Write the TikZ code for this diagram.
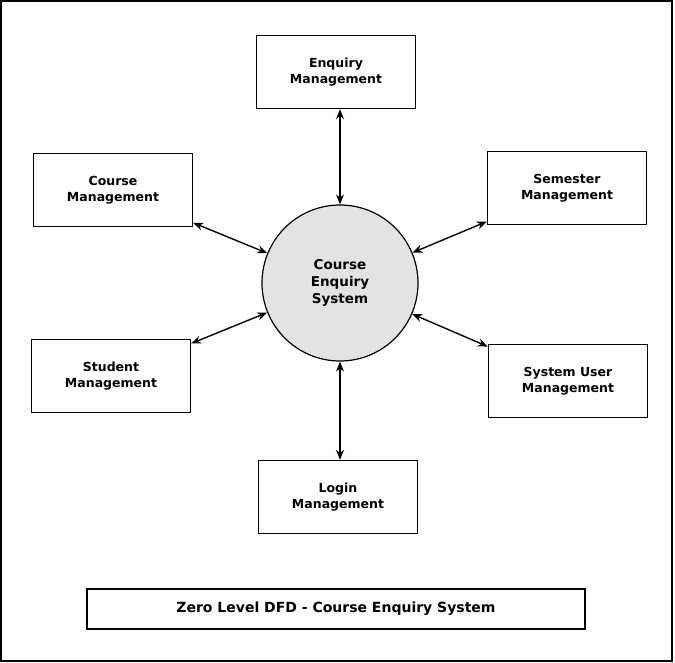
\documentclass[tikz,border=0pt]{standalone}
\usepackage{fontspec}
\setmainfont{DejaVu Sans}
\usetikzlibrary{arrows.meta}
\tikzset{
  entity/.style={draw,line width=1.4pt,minimum width=159pt,minimum height=73pt,align=center,font=\bfseries\fontsize{12.5}{16}\selectfont},
  process/.style={draw,line width=1.2pt,circle,fill=gray!22,minimum size=156pt,align=center,font=\bfseries\fontsize{13.5}{17}\selectfont},
  flow/.style={line width=1.4pt,{Stealth[length=10pt,width=8pt]}-{Stealth[length=10pt,width=8pt]}}
}
\begin{document}
\begin{tikzpicture}[x=1pt,y=-1pt]
\useasboundingbox (0,0) rectangle (675,663);
\draw[line width=1.4pt] (1,1) rectangle (672,661);
\node[process] (ces) at (340,283) {Course\\Enquiry\\System};
\node[entity] (enq) at (336,72) {Enquiry\\Management};
\node[entity] (crs) at (113,190) {Course\\Management};
\node[entity] (sem) at (567,188) {Semester\\Management};
\node[entity] (stu) at (111,376) {Student\\Management};
\node[entity] (sys) at (568,381) {System User\\Management};
\node[entity] (log) at (338,497) {Login\\Management};
\node[draw,line width=1.4pt,minimum width=498pt,minimum height=40pt,font=\bfseries\fontsize{14}{16}\selectfont] (ttl) at (336,609) {Zero Level DFD - Course Enquiry System};
% flows
\draw[flow] (enq.south -| ces.north) -- (ces.north);
\draw[flow] (log.north -| ces.south) -- (ces.south);
\draw[flow] (crs) -- (ces);
\draw[flow] (sem) -- (ces);
\draw[flow] (stu) -- (ces);
\draw[flow] (sys) -- (ces);
\end{tikzpicture}
\end{document}
